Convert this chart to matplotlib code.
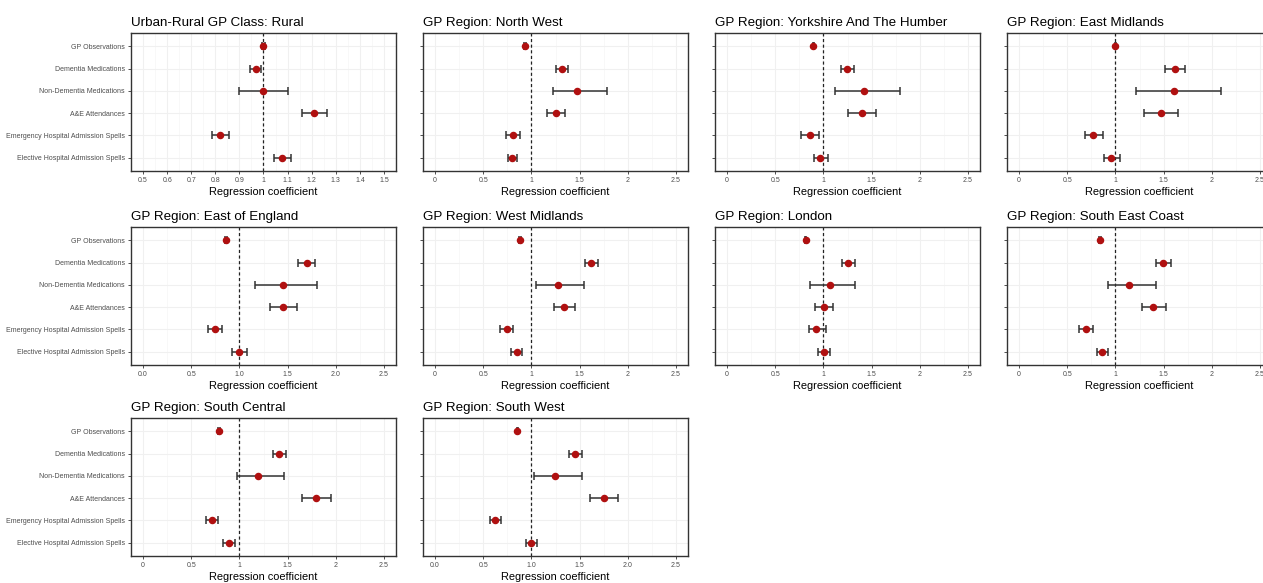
import matplotlib
matplotlib.use("Agg")
import matplotlib.pyplot as plt
import numpy as np

plt.rcParams['font.family'] = ['Liberation Sans', 'DejaVu Sans']

# outcome categories, top to bottom
outcomes = ["GP Observations", "Dementia Medications", "Non-Dementia Medications",
            "A&E Attendances", "Emergency Hospital Admission Spells",
            "Elective Hospital Admission Spells"]

titles = ["Urban-Rural GP Class: Rural", "GP Region: North West",
          "GP Region: Yorkshire And The Humber", "GP Region: East Midlands",
          "GP Region: East of England", "GP Region: West Midlands",
          "GP Region: London", "GP Region: South East Coast",
          "GP Region: South Central", "GP Region: South West"]

# point estimates per panel (same order as outcomes)
coef = [
    [1.00, 0.968, 0.996, 1.209, 0.820, 1.075],
    [0.932, 1.318, 1.473, 1.250, 0.808, 0.801],
    [0.897, 1.247, 1.421, 1.397, 0.860, 0.969],
    [1.000, 1.621, 1.603, 1.469, 0.766, 0.959],
    [0.862, 1.700, 1.448, 1.448, 0.748, 1.000],
    [0.884, 1.620, 1.271, 1.342, 0.743, 0.846],
    [0.815, 1.257, 1.068, 1.003, 0.928, 1.003],
    [0.838, 1.497, 1.141, 1.390, 0.690, 0.866],
    [0.786, 1.414, 1.190, 1.793, 0.717, 0.897],
    [0.854, 1.453, 1.244, 1.753, 0.627, 1.000],
]
ci_low = [
    [0.994, 0.946, 0.900, 1.159, 0.786, 1.043],
    [0.924, 1.250, 1.223, 1.158, 0.740, 0.760],
    [0.889, 1.182, 1.123, 1.260, 0.771, 0.900],
    [0.992, 1.517, 1.217, 1.300, 0.683, 0.883],
    [0.854, 1.610, 1.166, 1.317, 0.679, 0.928],
    [0.876, 1.551, 1.051, 1.236, 0.678, 0.788],
    [0.807, 1.192, 0.863, 0.914, 0.849, 0.942],
    [0.830, 1.424, 0.928, 1.276, 0.624, 0.810],
    [0.778, 1.352, 0.972, 1.645, 0.652, 0.828],
    [0.846, 1.387, 1.031, 1.613, 0.571, 0.944],
]
ci_high = [
    [1.006, 0.990, 1.100, 1.262, 0.855, 1.114],
    [0.940, 1.380, 1.781, 1.353, 0.877, 0.853],
    [0.905, 1.322, 1.798, 1.548, 0.952, 1.045],
    [1.008, 1.724, 2.100, 1.652, 0.872, 1.048],
    [0.870, 1.783, 1.810, 1.593, 0.824, 1.079],
    [0.892, 1.695, 1.541, 1.455, 0.812, 0.900],
    [0.823, 1.325, 1.325, 1.099, 1.027, 1.068],
    [0.846, 1.579, 1.417, 1.521, 0.766, 0.924],
    [0.794, 1.483, 1.462, 1.948, 0.783, 0.955],
    [0.862, 1.526, 1.526, 1.902, 0.686, 1.059],
]

rural_ticks = [0.5, 0.6, 0.7, 0.8, 0.9, 1.0, 1.1, 1.2, 1.3, 1.4, 1.5]
rural_labels = ["0.5", "0.6", "0.7", "0.8", "0.9", "1", "1.1", "1.2", "1.3", "1.4", "1.5"]
region_ticks = [0, 0.5, 1.0, 1.5, 2.0, 2.5]
region_labels = ["0", "0.5", "1", "1.5", "2", "2.5"]
region_labels_dec = ["0.0", "0.5", "1.0", "1.5", "2.0", "2.5"]

fig = plt.figure(figsize=(12.63, 5.83), dpi=100)

col_left = [131, 423, 715, 1007]
row_top = [33, 227, 418]
W, H = 265, 138
FW, FH = 1263, 583

y = np.arange(len(outcomes))[::-1]

for i, title in enumerate(titles):
    r, c = divmod(i, 4)
    ax = fig.add_axes([col_left[c] / FW, 1 - (row_top[r] + H) / FH, W / FW, H / FH])

    if i == 0:
        ticks, labels = rural_ticks, rural_labels
        ax.set_xlim(0.45, 1.55)
        minor = np.arange(0.45, 1.56, 0.1)
    else:
        ticks = region_ticks
        labels = region_labels_dec if i in (4, 9) else region_labels
        ax.set_xlim(-0.125, 2.625)
        minor = np.arange(0.25, 2.5, 0.5)

    ax.set_ylim(-0.6, len(outcomes) - 0.4)
    ax.set_xticks(ticks)
    ax.set_xticklabels(labels)
    ax.set_xticks(minor, minor=True)
    ax.set_yticks(y)
    if c == 0:
        ax.set_yticklabels(outcomes)
    else:
        ax.set_yticklabels([])

    # faint grid like ggplot theme_bw
    ax.grid(True, which='major', color='#f0f0f0', linewidth=0.8)
    ax.grid(True, which='minor', axis='x', color='#f5f5f5', linewidth=0.5)
    ax.set_axisbelow(True)

    ax.axvline(1, color='#222222', linestyle=(0, (2.5, 2)), linewidth=0.9, zorder=2)

    est = np.array(coef[i])
    lo = np.array(ci_low[i])
    hi = np.array(ci_high[i])
    ax.errorbar(est, y, xerr=[est - lo, hi - est], fmt='none', ecolor='#333333',
                elinewidth=1.1, capsize=3, capthick=1.1, zorder=3)
    ax.plot(est, y, 'o', color='#b01010', markersize=4.4, zorder=4)

    for s in ax.spines.values():
        s.set_color('#333333')
        s.set_linewidth(1.0)
    ax.tick_params(axis='both', which='major', labelsize=5.0, labelcolor='#4d4d4d',
                   length=2.5, width=0.6, color='#333333', pad=2)
    ax.tick_params(axis='x', which='minor', length=0)

    ax.set_title(title, loc='left', fontsize=9.6, color='black', pad=5)
    ax.set_xlabel("Regression coefficient", fontsize=7.9, labelpad=2)

fig.savefig("out.png", dpi=100, facecolor='white')
